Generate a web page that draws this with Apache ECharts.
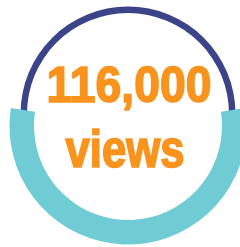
<!DOCTYPE html>
<html>
<head>
<meta charset="utf-8">
<script src="https://cdn.jsdelivr.net/npm/echarts@6/dist/echarts.min.js"></script>
<style>
  html, body { margin: 0; padding: 0; background: #fff; }
  #main { width: 240px; height: 247px; }
</style>
</head>
<body>
<div id="main"></div>
<script>
// numbers shown on the badge
const viewsLabel = ['116,000', 'views'];
// ring arcs in degrees: [visible arc, empty rest]
const topArc = [180, 180];
const bottomArc = [197.4, 162.6];

const chart = echarts.init(document.getElementById('main'));

const ringBase = {
  type: 'pie',
  silent: true,
  clockwise: true,
  label: { show: false },
  labelLine: { show: false },
  emphasis: { disabled: true },
  animation: false
};

// heavy orange type, thickened a little with a same-colour stroke
const bigText = (text, x, y, sx, sy) => ({
  type: 'text',
  x: x,
  y: y,
  scaleX: sx,
  scaleY: sy,
  z: 10,
  style: {
    text: text,
    font: 'bold 48px "Liberation Sans", Arial, sans-serif',
    fill: '#f8941e',
    stroke: '#f8941e',
    lineWidth: 1.6,
    align: 'center',
    verticalAlign: 'middle'
  }
});

const option = {
  series: [
    {
      ...ringBase,
      z: 1,
      center: [128, 114],
      radius: [101, 107.5],
      startAngle: 180,
      data: [
        { value: topArc[0], itemStyle: { color: '#3c4489' } },
        { value: topArc[1], itemStyle: { color: 'rgba(0,0,0,0)' } }
      ]
    },
    {
      ...ringBase,
      z: 2,
      center: [128, 126],
      radius: [94, 118.5],
      startAngle: 8.7,
      data: [
        { value: bottomArc[0], itemStyle: { color: '#70ccd4' } },
        { value: bottomArc[1], itemStyle: { color: 'rgba(0,0,0,0)' } }
      ]
    }
  ],
  graphic: [
    bigText(viewsLabel[0], 129, 88, 0.965, 1.04),
    bigText(viewsLabel[1], 125, 153, 0.91, 1.08)
  ]
};

chart.setOption(option);
</script>
</body>
</html>
